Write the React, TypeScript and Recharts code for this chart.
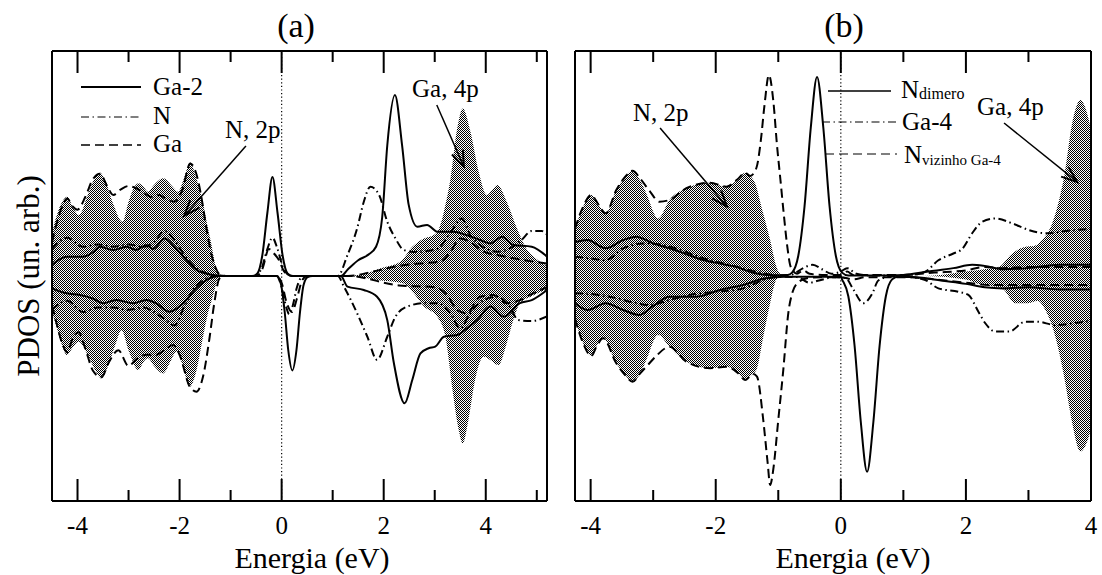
import React from 'react';
import { ComposedChart, Line, Area, XAxis, YAxis, ReferenceLine } from 'recharts';

const SERIF = "'Liberation Serif', 'DejaVu Serif', serif";

type Pt = [number, number];

// ---- painel (a): energia (eV), PDOS (un. arb.) ----
const ticksA = [-4, -3, -2, -1, 0, 1, 2, 3, 4, 5];

const aTotalUp: Pt[] = [
  [-4.5, 1.9], [-4.42, 2.6], [-4.3, 3.3], [-4.2, 3.52], [-4.1, 3.1], [-3.97, 2.71], [-3.8, 3.6],
  [-3.65, 4.4], [-3.56, 4.59], [-3.45, 4.2], [-3.3, 3.2], [-3.12, 2.41], [-3.0, 3.3], [-2.9, 3.9],
  [-2.81, 4.12], [-2.7, 3.95], [-2.62, 3.75], [-2.5, 4.05], [-2.32, 4.34], [-2.15, 4.0], [-2.03, 3.75],
  [-1.92, 4.3], [-1.79, 5.04], [-1.68, 4.4], [-1.54, 3.23], [-1.45, 2.2], [-1.38, 1.45], [-1.3, 0.5],
  [-1.22, 0.08], [-1.1, 0], [1.2, 0], [1.6, 0.08], [1.94, 0.34], [2.33, 0.64], [2.56, 1.3], [2.79, 1.67],
  [2.98, 1.82], [3.1, 2.2], [3.18, 2.86], [3.31, 4.34], [3.44, 6.56], [3.55, 7.45], [3.7, 6.41],
  [3.86, 4.64], [4.02, 3.6], [4.12, 3.8], [4.23, 4.04], [4.41, 3.3], [4.61, 2.12], [4.8, 1.2],
  [5.0, 0.75], [5.2, 0.45],
];
const aTotalDown: Pt[] = [
  [-4.5, -1.6], [-4.42, -2.2], [-4.3, -3.1], [-4.21, -3.51], [-4.1, -3.2], [-3.98, -2.92], [-3.8, -3.5],
  [-3.65, -4.2], [-3.53, -4.55], [-3.4, -4.0], [-3.25, -3.0], [-3.14, -2.4], [-3.0, -3.3], [-2.81, -4.18],
  [-2.7, -3.8], [-2.62, -3.66], [-2.5, -4.0], [-2.32, -4.33], [-2.18, -3.8], [-2.06, -3.36], [-1.95, -3.9],
  [-1.8, -4.92], [-1.68, -4.3], [-1.54, -2.7], [-1.45, -1.7], [-1.35, -0.92], [-1.25, -0.15], [-1.15, 0],
  [1.3, 0], [1.94, -0.2], [2.39, -0.33], [2.59, -0.77], [2.79, -1.36], [3.05, -1.81], [3.21, -2.7],
  [3.34, -4.92], [3.47, -6.84], [3.55, -7.44], [3.66, -6.4], [3.79, -4.62], [3.96, -3.59], [4.09, -3.73],
  [4.25, -3.96], [4.41, -2.99], [4.54, -1.96], [4.67, -1.21], [4.9, -0.9], [5.2, -0.6],
];
const aGa2Up: Pt[] = [
  [-4.5, 0.5], [-4.21, 0.86], [-3.89, 0.86], [-3.7, 1.05], [-3.56, 1.3], [-3.3, 1.16], [-3.04, 1.3],
  [-2.85, 1.16], [-2.65, 1.38], [-2.52, 1.2], [-2.29, 1.67], [-2.1, 1.3], [-1.87, 0.71], [-1.61, 0.19],
  [-1.36, 0.05], [-1.1, 0], [-0.58, 0], [-0.48, 0.1], [-0.38, 0.9], [-0.28, 2.8], [-0.18, 4.4],
  [-0.08, 2.8], [0.02, 0.9], [0.12, 0.1], [0.22, 0], [1.16, 0], [1.3, 0.3], [1.5, 0.7], [1.7, 0.95],
  [1.85, 1.3], [1.97, 2.6], [2.07, 5.8], [2.22, 8.04], [2.36, 5.82], [2.49, 3.16], [2.66, 2.19],
  [2.85, 2.27], [3.05, 1.97], [3.37, 1.97], [3.62, 1.82], [3.89, 1.6], [4.09, 1.45], [4.32, 1.75],
  [4.54, 1.38], [4.9, 1.3], [5.2, 0.86],
];
const aGa2Down: Pt[] = [
  [-4.5, -0.55], [-4.21, -0.77], [-3.95, -0.84], [-3.7, -1.0], [-3.5, -1.21], [-3.24, -1.07], [-2.91, -1.21],
  [-2.65, -1.07], [-2.46, -1.21], [-2.2, -1.59], [-1.93, -1.21], [-1.67, -0.55], [-1.41, -0.1], [-1.2, 0],
  [-0.09, 0], [-0.01, -0.4], [0.06, -1.6], [0.13, -3.3], [0.21, -4.2], [0.29, -3.3], [0.36, -1.6],
  [0.43, -0.4], [0.51, -0.05], [0.6, 0], [1.16, 0], [1.29, -0.47], [1.61, -0.62], [1.87, -0.92],
  [2.07, -1.96], [2.2, -3.88], [2.41, -5.66], [2.56, -4.62], [2.72, -3.44], [2.88, -3.21], [3.01, -3.14],
  [3.18, -2.7], [3.44, -2.62], [3.63, -2.33], [3.83, -1.96], [4.09, -1.36], [4.35, -1.81], [4.67, -1.21],
  [4.9, -1.07], [5.2, -0.62],
];
const aNUp: Pt[] = [
  [-4.5, 1.2], [-4.2, 1.7], [-3.9, 1.3], [-3.6, 1.4], [-3.3, 1.3], [-3.0, 1.4], [-2.7, 1.3], [-2.5, 1.5],
  [-2.3, 2.0], [-2.1, 1.6], [-1.9, 0.9], [-1.7, 0.4], [-1.5, 0.15], [-1.3, 0.03], [-1.1, 0], [-0.55, 0],
  [-0.4, 0.3], [-0.28, 1.2], [-0.18, 1.7], [-0.08, 1.2], [0.04, 0.3], [0.2, 0], [1.1, 0], [1.29, 0.93],
  [1.48, 2.12], [1.61, 3.3], [1.74, 3.97], [1.91, 3.6], [2.07, 2.41], [2.23, 1.67], [2.39, 1.16],
  [2.59, 1.07], [2.8, 1.1], [3.05, 1.2], [3.3, 1.9], [3.53, 2.56], [3.7, 1.8], [3.89, 1.38], [4.22, 1.08],
  [4.45, 1.2], [4.7, 1.6], [4.9, 2.0], [5.1, 2.0], [5.2, 1.85],
];
const aNDown: Pt[] = [
  [-4.5, -1.5], [-4.2, -1.1], [-3.9, -1.6], [-3.6, -1.4], [-3.3, -1.4], [-3.0, -1.5], [-2.7, -1.4],
  [-2.5, -1.6], [-2.3, -1.9], [-2.1, -2.2], [-1.9, -1.3], [-1.7, -0.5], [-1.5, -0.15], [-1.3, 0], [-0.1, 0],
  [0.0, -0.5], [0.08, -1.3], [0.15, -1.7], [0.22, -1.3], [0.3, -0.5], [0.42, 0], [1.1, 0], [1.22, -0.47],
  [1.48, -1.66], [1.68, -2.7], [1.87, -3.73], [2.07, -2.7], [2.23, -1.81], [2.46, -1.36], [2.79, -1.21],
  [3.05, -1.21], [3.31, -1.66], [3.5, -2.33], [3.69, -1.66], [3.96, -1.07], [4.22, -0.92], [4.45, -1.3],
  [4.64, -1.96], [4.9, -2.0], [5.2, -1.8],
];
const aGaUp: Pt[] = [
  [-4.5, 1.5], [-4.4, 2.4], [-4.3, 3.1], [-4.2, 3.45], [-4.1, 3.1], [-4.0, 2.95], [-3.85, 3.5], [-3.7, 4.3],
  [-3.56, 4.55], [-3.42, 4.0], [-3.3, 3.6], [-3.15, 3.85], [-3.0, 4.0], [-2.85, 3.9], [-2.7, 3.7],
  [-2.55, 3.5], [-2.4, 3.6], [-2.25, 3.4], [-2.1, 3.3], [-1.95, 3.8], [-1.79, 5.0], [-1.68, 4.6],
  [-1.58, 3.6], [-1.48, 2.2], [-1.38, 1.0], [-1.3, 0.4], [-1.2, 0.05], [-1.05, 0], [-0.5, 0], [-0.38, 0.3],
  [-0.25, 1.2], [-0.15, 1.0], [-0.05, 0.7], [0.05, 0.2], [0.2, 0], [1.3, 0], [1.8, 0.2], [2.3, 0.45],
  [2.72, 0.56], [3.11, 0.64], [3.31, 1.08], [3.5, 1.67], [3.69, 1.52], [3.96, 1.08], [4.22, 0.93],
  [4.54, 0.79], [4.9, 0.65], [5.2, 0.55],
];
const aGaDown: Pt[] = [
  [-4.5, -1.3], [-4.4, -2.2], [-4.3, -3.0], [-4.2, -3.4], [-4.1, -2.8], [-3.98, -2.5], [-3.85, -3.2],
  [-3.7, -4.2], [-3.53, -4.5], [-3.4, -3.9], [-3.2, -3.3], [-3.0, -4.0], [-2.85, -3.7], [-2.65, -3.5],
  [-2.45, -3.5], [-2.3, -3.3], [-2.13, -3.07], [-2.0, -3.5], [-1.8, -4.92], [-1.67, -5.14], [-1.54, -4.47],
  [-1.41, -2.7], [-1.32, -1.21], [-1.22, -0.12], [-1.1, 0], [-0.1, 0], [0.0, -0.3], [0.1, -1.2],
  [0.2, -1.6], [0.3, -1.0], [0.4, -0.2], [0.5, 0], [1.3, 0], [2.3, -0.42], [3.0, -0.5], [3.24, -0.84],
  [3.44, -1.51], [3.63, -1.66], [3.89, -0.92], [4.15, -0.84], [4.41, -1.21], [4.67, -1.07], [4.9, -0.8],
  [5.2, -0.5],
];

// ---- painel (b) ----
const ticksB = [-4, -3, -2, -1, 0, 1, 2, 3, 4];

const bTotalUp: Pt[] = [
  [-4.25, 2.1], [-4.12, 3.08], [-3.99, 3.6], [-3.88, 3.2], [-3.76, 2.79], [-3.59, 3.82], [-3.45, 4.4],
  [-3.33, 4.68], [-3.2, 4.2], [-3.11, 3.67], [-2.92, 2.56], [-2.74, 3.38], [-2.47, 3.9], [-2.25, 4.1],
  [-2.09, 4.15], [-1.83, 3.97], [-1.65, 4.3], [-1.53, 4.59], [-1.45, 4.45], [-1.37, 4.12], [-1.27, 3.08],
  [-1.13, 1.6], [-1.03, 0.41], [-0.95, 0.05], [-0.85, 0], [1.3, 0], [1.6, 0.05], [2.0, 0.2], [2.3, 0.3],
  [2.53, 0.41], [2.74, 1.0], [2.95, 1.3], [3.1, 1.35], [3.22, 1.6], [3.38, 2.34], [3.49, 3.38],
  [3.58, 4.56], [3.69, 6.64], [3.83, 7.82], [3.95, 7.1], [4.0, 6.5],
];
const bTotalDown: Pt[] = [
  [-4.25, -1.9], [-4.12, -2.99], [-3.99, -3.55], [-3.9, -3.1], [-3.8, -2.77], [-3.59, -3.88], [-3.45, -4.4],
  [-3.33, -4.7], [-3.2, -4.3], [-3.11, -3.73], [-2.92, -2.62], [-2.74, -3.14], [-2.47, -3.81], [-2.09, -4.1],
  [-1.83, -4.03], [-1.65, -4.3], [-1.53, -4.62], [-1.45, -4.45], [-1.35, -4.18], [-1.24, -2.7],
  [-1.13, -1.21], [-1.03, -0.15], [-0.95, 0], [1.3, 0], [2.0, -0.15], [2.2, -0.35], [2.58, -0.55],
  [2.79, -1.21], [3.0, -1.21], [3.14, -1.1], [3.27, -1.51], [3.43, -2.7], [3.58, -4.62], [3.69, -6.4],
  [3.83, -7.8], [3.97, -7.1], [4.0, -6.8],
];
const bDimeroUp: Pt[] = [
  [-4.25, 1.5], [-4.05, 1.6], [-3.76, 1.23], [-3.48, 1.6], [-3.27, 1.75], [-3.0, 1.45], [-2.74, 1.23],
  [-2.45, 0.95], [-2.2, 0.71], [-1.93, 0.55], [-1.68, 0.41], [-1.37, 0.12], [-1.04, 0.03], [-0.85, 0.05],
  [-0.78, 0.15], [-0.68, 0.9], [-0.58, 3.1], [-0.48, 6.6], [-0.38, 8.85], [-0.28, 6.6], [-0.18, 3.1],
  [-0.08, 0.9], [0.02, 0.15], [0.12, 0.02], [0.6, 0.02], [1.0, 0.05], [1.4, 0.2], [1.8, 0.35], [2.1, 0.5],
  [2.3, 0.45], [2.6, 0.3], [3.0, 0.35], [3.5, 0.5], [4.0, 0.5],
];
const bDimeroDown: Pt[] = [
  [-4.25, -1.21], [-4.05, -1.51], [-3.76, -1.21], [-3.48, -1.51], [-3.22, -1.73], [-3.0, -1.33],
  [-2.74, -0.92], [-2.31, -0.92], [-1.93, -0.62], [-1.56, -0.4], [-1.2, -0.1], [-0.9, -0.03], [0.0, -0.03],
  [0.02, -0.15], [0.12, -0.9], [0.22, -3.1], [0.32, -6.5], [0.42, -8.7], [0.52, -6.5], [0.62, -3.1],
  [0.72, -0.9], [0.82, -0.15], [0.92, -0.02], [1.3, -0.08], [1.6, -0.2], [2.0, -0.35], [2.3, -0.5],
  [2.6, -0.55], [3.0, -0.5], [3.5, -0.6], [4.0, -0.6],
];
const bGa4Up: Pt[] = [
  [-4.25, 0.86], [-4.02, 0.79], [-3.76, 0.71], [-3.48, 1.23], [-3.16, 1.45], [-2.84, 1.38], [-2.57, 1.16],
  [-2.2, 0.79], [-1.88, 0.56], [-1.56, 0.34], [-1.24, 0.12], [-1.0, 0.03], [-0.8, 0.05], [-0.6, 0.35],
  [-0.45, 0.5], [-0.3, 0.3], [-0.15, 0.1], [0.0, 0.2], [0.1, 0.35], [0.25, 0.1], [0.5, 0.02], [1.1, 0.05],
  [1.35, 0.19], [1.56, 0.7], [1.8, 1.0], [1.94, 1.2], [2.1, 1.9], [2.26, 2.41], [2.47, 2.56], [2.74, 2.34],
  [3.01, 2.04], [3.27, 1.9], [3.6, 2.0], [4.0, 2.1],
];
const bGa4Down: Pt[] = [
  [-4.25, -0.77], [-4.0, -0.8], [-3.7, -0.92], [-3.38, -1.14], [-3.07, -1.29], [-2.74, -1.07],
  [-2.42, -0.84], [-1.99, -0.7], [-1.56, -0.55], [-1.24, -0.18], [-1.0, -0.03], [-0.7, -0.05], [-0.5, -0.3],
  [-0.35, -0.2], [-0.1, -0.05], [0.08, -0.1], [0.2, -0.6], [0.36, -1.21], [0.5, -0.8], [0.6, -0.2],
  [0.8, -0.02], [1.1, -0.05], [1.35, -0.18], [1.56, -0.55], [1.88, -0.7], [2.04, -0.84], [2.2, -1.59],
  [2.31, -2.1], [2.47, -2.47], [2.69, -2.47], [2.95, -2.03], [3.14, -2.03], [3.43, -2.18], [3.9, -2.03],
  [4.0, -2.0],
];
const bVizUp: Pt[] = [
  [-4.25, 2.1], [-4.12, 3.08], [-3.99, 3.6], [-3.88, 3.2], [-3.76, 2.79], [-3.59, 3.82], [-3.45, 4.4],
  [-3.33, 4.68], [-3.2, 4.3], [-3.05, 3.75], [-2.9, 3.3], [-2.74, 3.38], [-2.47, 3.9], [-2.25, 4.1],
  [-2.09, 4.15], [-1.83, 3.97], [-1.65, 4.3], [-1.53, 4.59], [-1.45, 4.45], [-1.35, 4.8], [-1.28, 6.0],
  [-1.22, 7.6], [-1.15, 8.93], [-1.08, 7.8], [-1.02, 5.8], [-0.97, 4.4], [-0.91, 2.7], [-0.86, 1.4],
  [-0.8, 0.4], [-0.7, 0.1], [-0.6, 0.25], [-0.5, 0.1], [-0.3, 0.05], [0.0, 0.05], [0.1, 0.2], [0.2, 0.05],
  [1.0, 0.05], [1.5, 0.15], [2.0, 0.25], [2.3, 0.4], [2.6, 0.35], [3.0, 0.4], [4.0, 0.4],
];
const bVizDown: Pt[] = [
  [-4.25, -1.9], [-4.12, -2.99], [-3.99, -3.55], [-3.9, -3.1], [-3.8, -2.77], [-3.59, -3.88], [-3.45, -4.4],
  [-3.33, -4.7], [-3.2, -4.3], [-3.1, -4.0], [-2.95, -3.55], [-2.8, -3.2], [-2.74, -3.14], [-2.47, -3.81],
  [-2.09, -4.1], [-1.83, -4.03], [-1.65, -4.3], [-1.53, -4.62], [-1.45, -4.45], [-1.4, -4.35],
  [-1.34, -4.47], [-1.24, -6.4], [-1.17, -8.3], [-1.13, -9.29], [-1.08, -8.6], [-1.0, -6.4], [-0.92, -4.18],
  [-0.84, -1.66], [-0.77, -0.7], [-0.7, -0.33], [-0.54, -0.1], [-0.3, -0.05], [0.0, -0.05], [0.2, -0.15],
  [0.4, -0.05], [1.0, -0.05], [1.5, -0.15], [2.0, -0.3], [2.4, -0.4], [3.0, -0.4], [4.0, -0.4],
];

const rows = (pts: Pt[]) => pts.map(([e, v]) => ({ e, v }));

const DASH = '9 5';
const DASHDOT = '8 3.5 1.5 3.5';
const Y_MAX = 10;

type Layer = { pts: Pt[]; kind: 'fill' | 'solid' | 'dash' | 'dashdot' };

const layersA: Layer[] = [
  { pts: aTotalUp, kind: 'fill' },
  { pts: aTotalDown, kind: 'fill' },
  { pts: aGa2Up, kind: 'solid' },
  { pts: aGa2Down, kind: 'solid' },
  { pts: aNUp, kind: 'dashdot' },
  { pts: aNDown, kind: 'dashdot' },
  { pts: aGaUp, kind: 'dash' },
  { pts: aGaDown, kind: 'dash' },
];
// no painel (b) o N do dimero e o N vizinho ficam por baixo do sombreado
const layersB: Layer[] = [
  { pts: bDimeroUp, kind: 'solid' },
  { pts: bDimeroDown, kind: 'solid' },
  { pts: bVizUp, kind: 'dash' },
  { pts: bVizDown, kind: 'dash' },
  { pts: bTotalUp, kind: 'fill' },
  { pts: bTotalDown, kind: 'fill' },
  { pts: bGa4Up, kind: 'dashdot' },
  { pts: bGa4Down, kind: 'dashdot' },
];

const arrowsA = [
  { from: { x: -0.7, y: 5.78 }, to: { x: -1.91, y: 2.67 } },
  { from: { x: 3.04, y: 7.6 }, to: { x: 3.57, y: 4.86 } },
];
const arrowsB = [
  { from: { x: -2.89, y: 6.58 }, to: { x: -1.82, y: 3.08 } },
  { from: { x: 2.61, y: 6.8 }, to: { x: 3.78, y: 4.18 } },
];

// quadro de cada painel, em px da pagina
const FRAME_TOP = 51;
const FRAME_BOTTOM = 501;
const frameA = { left: 52, right: 547, domain: [-4.5, 5.2] as [number, number] };
const frameB = { left: 575, right: 1091, domain: [-4.25, 4] as [number, number] };

const BottomTick = (p: any) => {
  const { x, y, payload } = p;
  if (payload.value % 2 !== 0) return <g />;
  return (
    <text x={x} y={y + 33} textAnchor="middle" fontSize={25} style={{ fontFamily: SERIF }} fill="#000">
      {payload.value}
    </text>
  );
};

const ArrowShape = (p: any) => {
  const { x1, y1, x2, y2 } = p;
  const ang = Math.atan2(y2 - y1, x2 - x1);
  const len = 17;
  const spread = 0.36;
  const lx = x2 - len * Math.cos(ang - spread);
  const ly = y2 - len * Math.sin(ang - spread);
  const rx = x2 - len * Math.cos(ang + spread);
  const ry = y2 - len * Math.sin(ang + spread);
  return (
    <g>
      <line x1={x1} y1={y1} x2={x2} y2={y2} stroke="#000" strokeWidth={1.5} />
      <polyline points={`${lx},${ly} ${x2},${y2} ${rx},${ry}`} fill="none" stroke="#000" strokeWidth={2} />
    </g>
  );
};

interface PanelProps {
  id: string;
  width: number;
  margin: { top: number; right: number; bottom: number; left: number };
  domain: [number, number];
  ticks: number[];
  layers: Layer[];
  arrows: { from: { x: number; y: number }; to: { x: number; y: number } }[];
}

// eixos com 1px de espessura: o Recharts nao desenha eixos de largura/altura 0
function Panel({ id, width, margin, domain, ticks, layers, arrows }: PanelProps) {
  const pat = `pdos-fill-${id}`;
  const frame = { stroke: '#000', strokeWidth: 2 };
  return (
    <ComposedChart width={width} height={575} margin={margin}>
      <defs>
        <pattern id={pat} width={2} height={2} patternUnits="userSpaceOnUse">
          <rect x={0} y={0} width={2} height={2} fill="#fff" fillOpacity={0.7} />
          <rect x={0} y={0} width={1} height={1} fill="#000" />
          <rect x={1} y={1} width={1} height={1} fill="#000" />
        </pattern>
      </defs>
      <XAxis
        xAxisId="x" dataKey="e" type="number" domain={domain} allowDataOverflow ticks={ticks} interval={0}
        height={1} tickSize={0} tickMargin={0} tickLine={false} axisLine={frame} tick={BottomTick}
      />
      <XAxis
        xAxisId="top" orientation="top" dataKey="e" type="number" domain={domain} allowDataOverflow
        height={1} tick={false} tickLine={false} axisLine={frame}
      />
      <YAxis yAxisId="l" type="number" domain={[-Y_MAX, Y_MAX]} allowDataOverflow width={1} tick={false} tickLine={false} axisLine={frame} />
      <YAxis yAxisId="r" orientation="right" type="number" domain={[-Y_MAX, Y_MAX]} allowDataOverflow width={1} tick={false} tickLine={false} axisLine={frame} />
      <ReferenceLine xAxisId="x" yAxisId="l" x={0} stroke="#000" strokeWidth={1.2} strokeDasharray="1.2 2.4" />
      {layers.map((l, i) =>
        l.kind === 'fill' ? (
          <Area
            key={i} xAxisId="x" yAxisId="l" data={rows(l.pts)} dataKey="v" type="monotone"
            stroke="none" fill={`url(#${pat})`} fillOpacity={1} isAnimationActive={false}
          />
        ) : (
          <Line
            key={i} xAxisId="x" yAxisId="l" data={rows(l.pts)} dataKey="v" type="monotone"
            stroke="#000" strokeWidth={2} dot={false} activeDot={false}
            strokeDasharray={l.kind === 'dash' ? DASH : l.kind === 'dashdot' ? DASHDOT : undefined}
            isAnimationActive={false}
          />
        )
      )}
      {arrows.map((a, i) => (
        <ReferenceLine key={`ar${i}`} xAxisId="x" yAxisId="l" segment={[a.from, a.to]} shape={ArrowShape} ifOverflow="visible" />
      ))}
    </ComposedChart>
  );
}

// marcas de escala para dentro do quadro (em cima e em baixo)
function FrameTicks({ f, ticks }: { f: typeof frameA; ticks: number[] }) {
  const [d0, d1] = f.domain;
  const w = 2;
  return (
    <g>
      {ticks.map((t) => {
        const x = f.left + ((t - d0) / (d1 - d0)) * (f.right - f.left);
        const len = t % 2 === 0 ? 22 : 11;
        return (
          <g key={t}>
            <rect x={x - w / 2} y={FRAME_BOTTOM - len} width={w} height={len} fill="#000" />
            <rect x={x - w / 2} y={FRAME_TOP} width={w} height={len} fill="#000" />
          </g>
        );
      })}
    </g>
  );
}

export default function App() {
  const txt = { style: { fontFamily: SERIF }, fill: '#000' };
  return (
    <div style={{ position: 'absolute', left: 0, top: 0, width: 1102, height: 575, background: '#fff', fontFamily: SERIF }}>
      <div style={{ position: 'absolute', left: 0, top: 0 }}>
        <Panel
          id="a" width={560} margin={{ top: 50, right: 12, bottom: 73, left: 51 }}
          domain={frameA.domain} ticks={ticksA} layers={layersA} arrows={arrowsA}
        />
      </div>
      <div style={{ position: 'absolute', left: 560, top: 0 }}>
        <Panel
          id="b" width={542} margin={{ top: 50, right: 10, bottom: 73, left: 14 }}
          domain={frameB.domain} ticks={ticksB} layers={layersB} arrows={arrowsB}
        />
      </div>
      <svg width={1102} height={575} style={{ position: 'absolute', left: 0, top: 0, pointerEvents: 'none' }}>
        <FrameTicks f={frameA} ticks={ticksA} />
        <FrameTicks f={frameB} ticks={ticksB} />

        <text x={296} y={37} textAnchor="middle" fontSize={34} {...txt}>(a)</text>
        <text x={844} y={37} textAnchor="middle" fontSize={34} {...txt}>(b)</text>
        <text transform="translate(39,276) rotate(-90)" textAnchor="middle" fontSize={31} {...txt}>PDOS (un. arb.)</text>
        <text x={312} y={568} textAnchor="middle" fontSize={30} {...txt}>Energia (eV)</text>
        <text x={853} y={568} textAnchor="middle" fontSize={30} {...txt}>Energia (eV)</text>

        <text x={225} y={138} fontSize={25} {...txt}>N, 2p</text>
        <text x={412} y={97} fontSize={25} {...txt}>Ga, 4p</text>
        <text x={633} y={121} fontSize={25} {...txt}>N, 2p</text>
        <text x={977} y={115} fontSize={25} {...txt}>Ga, 4p</text>

        {/* legenda (a) */}
        <line x1={81} y1={87} x2={141} y2={87} stroke="#000" strokeWidth={2} />
        <text x={153} y={95} fontSize={25} {...txt}>Ga-2</text>
        <line x1={81} y1={117} x2={141} y2={117} stroke="#000" strokeWidth={1.2} strokeDasharray={DASHDOT} />
        <text x={153} y={124} fontSize={25} {...txt}>N</text>
        <line x1={81} y1={145} x2={141} y2={145} stroke="#000" strokeWidth={1.5} strokeDasharray={DASH} />
        <text x={153} y={152} fontSize={25} {...txt}>Ga</text>

        {/* legenda (b) */}
        <line x1={828} y1={91} x2={891} y2={91} stroke="#000" strokeWidth={1.5} />
        <text x={901} y={98} fontSize={25} {...txt}>
          N<tspan fontSize={16} dy={1}>dimero</tspan>
        </text>
        <line x1={822} y1={122} x2={898} y2={122} stroke="#000" strokeWidth={1.2} strokeDasharray={DASHDOT} />
        <text x={902} y={130} fontSize={25} {...txt}>Ga-4</text>
        <line x1={825} y1={154} x2={897} y2={154} stroke="#000" strokeWidth={1.2} strokeDasharray={DASH} />
        <text x={904} y={163} fontSize={25} {...txt}>
          N<tspan fontSize={15} dy={2}>vizinho Ga-4</tspan>
        </text>
      </svg>
    </div>
  );
}
